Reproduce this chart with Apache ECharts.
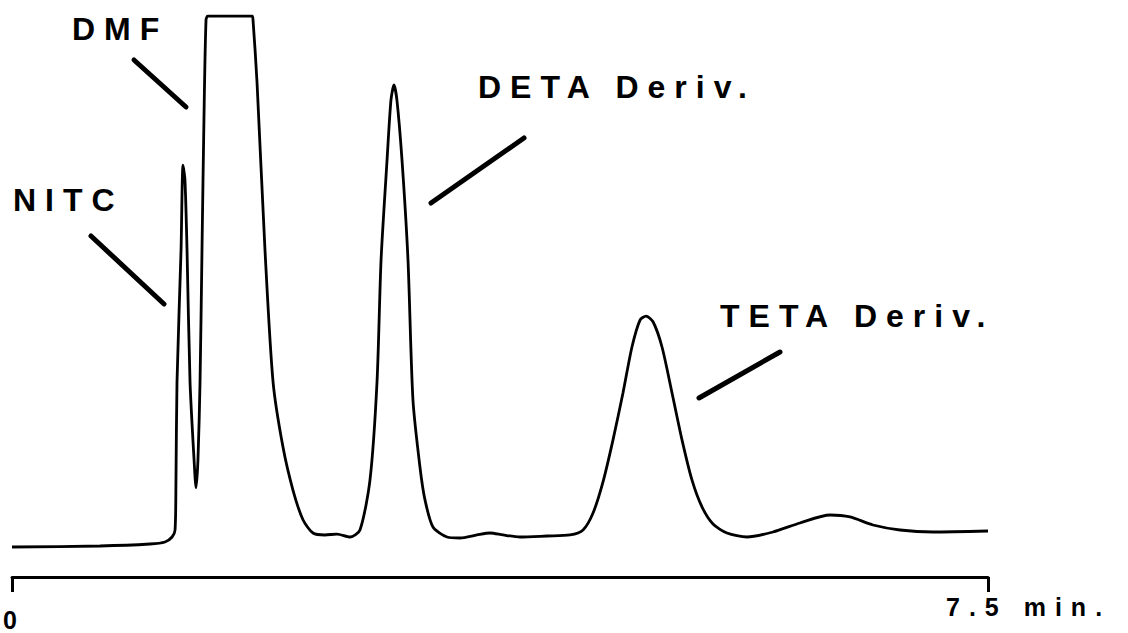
<!DOCTYPE html>
<html>
<head>
<meta charset="utf-8">
<script src="https://cdn.jsdelivr.net/npm/echarts@6/dist/echarts.min.js"></script>
<style>
  html, body { margin: 0; padding: 0; background: #fff; }
  #chart { width: 1128px; height: 633px; }
  #chart text { letter-spacing: 9px; }
</style>
</head>
<body>
<div id="chart"></div>
<script>
// retention time (min) and detector response (% of full scale)
var times = [0, 0.676, 1.060, 1.176, 1.230, 1.253, 1.260, 1.268, 1.299, 1.314, 1.329, 1.345, 1.368, 1.399, 1.414,
    1.429, 1.445, 1.460, 1.475, 1.491, 1.506, 1.844, 1.852, 1.883, 1.944, 2.006, 2.082, 2.159, 2.236, 2.313,
    2.405, 2.497, 2.597, 2.674, 2.751, 2.805, 2.836, 2.882, 2.912, 2.935, 2.958, 2.997, 3.043, 3.081, 3.135,
    3.174, 3.235, 3.343, 3.443, 3.573, 3.673, 3.773, 3.904, 4.111, 4.288, 4.388, 4.465, 4.541, 4.618, 4.695,
    4.764, 4.826, 4.872, 4.926, 4.995, 5.072, 5.149, 5.225, 5.302, 5.387, 5.494, 5.648, 5.848, 6.055, 6.286,
    6.440, 6.616, 6.824, 7.077, 7.5];
var response = [5.35, 5.53, 5.88, 6.24, 7.13, 8.38, 17.3, 34.8, 58.3, 73.4, 70.8, 58.3, 34.8, 20.9, 15.9,
    20.9, 34.8, 58.3, 81.5, 99.3, 100, 100, 99.3, 88.1, 58.3, 34.8, 23.2, 15.5, 10.2, 7.84,
    7.49, 7.66, 7.13, 8.38, 17.3, 34.8, 56.5, 74.3, 85.0, 87.7, 85.0, 74.3, 56.5, 31.6, 19.6,
    13.7, 8.91, 7.13, 6.95, 7.49, 7.84, 7.49, 7.13, 7.31, 7.49, 8.38, 11.4, 16.9, 24.4, 32.8,
    41.0, 45.8, 46.5, 45.5, 41.0, 32.8, 24.4, 17.3, 12.5, 9.45, 7.84, 7.13, 8.02, 9.63, 11.05,
    10.7, 9.27, 8.38, 8.02, 8.20];
var tickValues = [0, 7.5];
var tickLabels = ['0', '7.5 min.'];
var peakNames = ['NITC', 'DMF', 'DETA Deriv.', 'TETA Deriv.'];

var trace = times.map(function (t, i) { return [t, response[i]]; });

var myChart = echarts.init(document.getElementById('chart'), null, { renderer: 'svg' });

var labelFont = 'bold 32px "Liberation Sans", Arial, sans-serif';
var leaderStyle = { stroke: '#000', lineWidth: 5, lineCap: 'round' };

var option = {
    animation: false,
    backgroundColor: '#fff',
    grid: { left: 12, right: 140, top: 16, bottom: 56 },
    xAxis: {
        type: 'value',
        min: 0,
        max: 7.5,
        interval: 7.5,
        axisLine: { lineStyle: { color: '#000', width: 3 } },
        axisTick: { show: true, length: 15, lineStyle: { color: '#000', width: 3 } },
        axisLabel: { show: false },
        splitLine: { show: false }
    },
    yAxis: {
        type: 'value',
        min: 0,
        max: 100,
        show: false
    },
    series: [{
        type: 'line',
        data: trace,
        showSymbol: false,
        smooth: 0.25,
        lineStyle: { color: '#000', width: 2.8 }
    }]
};

myChart.setOption(option);

// tick labels placed from the axis scale
var p0 = myChart.convertToPixel({ xAxisIndex: 0 }, tickValues[0]);
var p1 = myChart.convertToPixel({ xAxisIndex: 0 }, tickValues[1]);
var tickFont = 'bold 25px "Liberation Sans", Arial, sans-serif';

myChart.setOption({
    graphic: [
        { type: 'text', x: p0 - 9, y: 620, style: { text: tickLabels[0], font: tickFont, fill: '#000', align: 'left', verticalAlign: 'middle' } },
        { type: 'text', x: p1 - 42, y: 607, style: { text: tickLabels[1], font: tickFont, fill: '#000', align: 'left', verticalAlign: 'middle' } },

        { type: 'text', x: 13, y: 200, style: { text: peakNames[0], font: labelFont, fill: '#000', verticalAlign: 'middle' } },
        { type: 'text', x: 72, y: 29, style: { text: peakNames[1], font: labelFont, fill: '#000', verticalAlign: 'middle' } },
        { type: 'text', x: 478, y: 87, style: { text: peakNames[2], font: labelFont, fill: '#000', verticalAlign: 'middle' } },
        { type: 'text', x: 720, y: 316, style: { text: peakNames[3], font: labelFont, fill: '#000', verticalAlign: 'middle' } },

        { type: 'line', shape: { x1: 91, y1: 236, x2: 164, y2: 304 }, style: leaderStyle },
        { type: 'line', shape: { x1: 134, y1: 60, x2: 186, y2: 107 }, style: leaderStyle },
        { type: 'line', shape: { x1: 431, y1: 203, x2: 524, y2: 138 }, style: leaderStyle },
        { type: 'line', shape: { x1: 699, y1: 398, x2: 780, y2: 352 }, style: leaderStyle }
    ]
});
</script>
</body>
</html>
